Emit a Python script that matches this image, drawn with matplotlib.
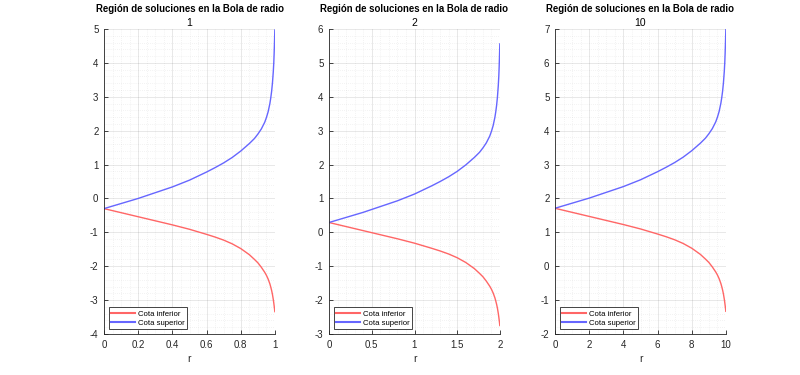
import matplotlib
matplotlib.use("Agg")
import matplotlib.pyplot as plt
from matplotlib.ticker import MultipleLocator, FuncFormatter

plt.rcParams['font.family'] = ['Liberation Sans', 'DejaVu Sans']

title_main = "Región de soluciones en la Bola de radio"
radii = [1, 2, 10]
radius_labels = ["1", "2", "10"]

# r values read per panel
r_1 = [0, 0.1, 0.2, 0.3, 0.4, 0.5, 0.6, 0.65, 0.7, 0.75, 0.8, 0.85, 0.88, 0.9, 0.92, 0.94,
       0.95, 0.96, 0.97, 0.975, 0.98, 0.985, 0.99, 0.993, 0.995, 0.997, 0.999]
r_2 = [0, 0.2, 0.4, 0.6, 0.8, 1.0, 1.2, 1.3, 1.4, 1.5, 1.6, 1.7, 1.76, 1.8, 1.84, 1.88,
       1.9, 1.92, 1.94, 1.95, 1.96, 1.97, 1.98, 1.986, 1.99, 1.994, 1.998]
r_10 = [0, 1, 2, 3, 4, 5, 6, 6.5, 7, 7.5, 8, 8.5, 8.8, 9, 9.2, 9.4,
        9.5, 9.6, 9.7, 9.75, 9.8, 9.85, 9.9, 9.93, 9.95, 9.97, 9.99]

upper_1 = [-0.30, -0.15, 0.00, 0.17, 0.34, 0.54, 0.78, 0.91, 1.05, 1.21, 1.40, 1.62, 1.77, 1.90,
           2.05, 2.25, 2.39, 2.56, 2.80, 2.96, 3.15, 3.40, 3.74, 4.02, 4.28, 4.60, 4.97]
lower_1 = [-0.30, -0.42, -0.54, -0.66, -0.78, -0.91, -1.06, -1.14, -1.23, -1.34, -1.48, -1.66, -1.80,
           -1.90, -2.03, -2.18, -2.27, -2.38, -2.52, -2.61, -2.71, -2.83, -2.98, -3.09, -3.17, -3.25, -3.34]

upper_2 = [0.29, 0.44, 0.59, 0.76, 0.93, 1.13, 1.37, 1.50, 1.64, 1.80, 1.99, 2.21, 2.36, 2.49,
           2.64, 2.84, 2.98, 3.15, 3.39, 3.55, 3.74, 3.99, 4.33, 4.61, 4.87, 5.19, 5.56]
lower_2 = [0.29, 0.17, 0.05, -0.07, -0.19, -0.32, -0.47, -0.55, -0.64, -0.75, -0.89, -1.07, -1.21,
           -1.31, -1.44, -1.59, -1.68, -1.79, -1.93, -2.02, -2.12, -2.24, -2.39, -2.50, -2.58, -2.66, -2.75]

upper_10 = [1.71, 1.86, 2.01, 2.18, 2.35, 2.55, 2.79, 2.92, 3.06, 3.22, 3.41, 3.63, 3.78, 3.91,
            4.06, 4.26, 4.40, 4.57, 4.81, 4.97, 5.16, 5.41, 5.75, 6.03, 6.29, 6.61, 6.98]
lower_10 = [1.71, 1.59, 1.47, 1.35, 1.23, 1.10, 0.95, 0.87, 0.78, 0.67, 0.53, 0.35, 0.21, 0.11,
            -0.02, -0.17, -0.26, -0.37, -0.51, -0.60, -0.70, -0.82, -0.97, -1.08, -1.16, -1.24, -1.33]

r_data = [r_1, r_2, r_10]
lower_data = [lower_1, lower_2, lower_10]
upper_data = [upper_1, upper_2, upper_10]

ylims = [(-4, 5), (-3, 6), (-2, 7)]
xmajor = [0.2, 0.5, 2]
xminor = [0.05, 0.1, 0.5]

legend_labels = ["Cota inferior", "Cota superior"]
red = (1.0, 0.40, 0.40)
blue = (0.40, 0.40, 1.0)

fig = plt.figure(figsize=(8, 3.75), dpi=100)
lefts = [104/800, 329/800, 555/800]
w = 171/800
b = (375-334)/375
h = 305/375
axcol = (0.15, 0.15, 0.15)
fmt = FuncFormatter(lambda v, p: ("%g" % round(v, 6)))

for i in range(3):
    ax = fig.add_axes([lefts[i], b, w, h])
    ax.plot(r_data[i], lower_data[i], color=red, lw=1.0, label=legend_labels[0])
    ax.plot(r_data[i], upper_data[i], color=blue, lw=1.0, label=legend_labels[1])
    ax.set_xlim(0, radii[i])
    ax.set_ylim(*ylims[i])
    ax.xaxis.set_major_locator(MultipleLocator(xmajor[i]))
    ax.xaxis.set_minor_locator(MultipleLocator(xminor[i]))
    ax.yaxis.set_major_locator(MultipleLocator(1))
    ax.yaxis.set_minor_locator(MultipleLocator(0.2))
    ax.xaxis.set_major_formatter(fmt)
    ax.yaxis.set_major_formatter(fmt)
    ax.grid(which='major', color=(0.15, 0.15, 0.15), alpha=0.12, lw=0.6)
    ax.grid(which='minor', color=(0.15, 0.15, 0.15), alpha=0.10, lw=0.5, ls=(0, (1, 2)))
    ax.set_axisbelow(True)
    for s in ['top', 'right']:
        ax.spines[s].set_visible(False)
    for s in ['left', 'bottom']:
        ax.spines[s].set_color(axcol)
        ax.spines[s].set_linewidth(0.6)
    ax.tick_params(which='major', direction='in', length=3, width=0.6, color=axcol,
                   labelsize=7, labelcolor=axcol, pad=4)
    ax.tick_params(which='minor', length=0)
    ax.set_xlabel("r", fontsize=7.5, color=axcol, labelpad=3)
    ax.set_title(radius_labels[i], fontsize=7.5, color='black', pad=2)
    ax.annotate(title_main, xy=(0.5, 1.0), xycoords='axes fraction',
                xytext=(0, 11), textcoords='offset points', ha='center', va='bottom',
                fontsize=6.9, fontweight='bold', color='black')
    leg = ax.legend(loc='lower left', fontsize=5.6, frameon=True, fancybox=False,
                    borderpad=0.35, labelspacing=0.2, handlelength=3.0, handletextpad=0.4,
                    borderaxespad=0.6)
    leg.get_frame().set_edgecolor(axcol)
    leg.get_frame().set_linewidth(0.6)
    leg.get_frame().set_alpha(1.0)
    for line in leg.get_lines():
        line.set_linewidth(1.5)

fig.savefig("out.png", dpi=100)
